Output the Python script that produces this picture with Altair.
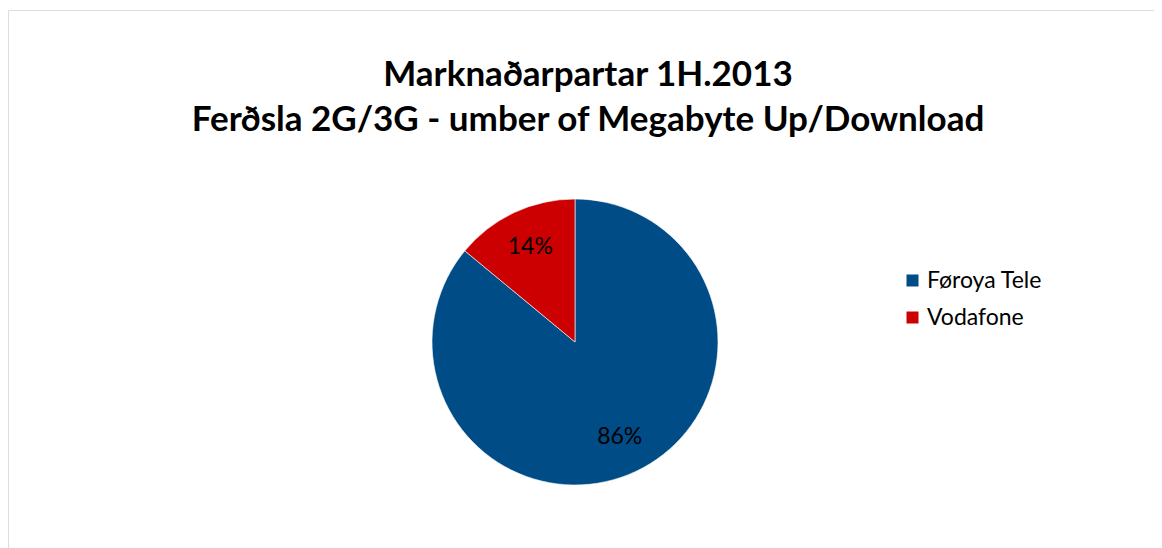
import altair as alt
import pandas as pd

companies = ["Føroya Tele", "Vodafone"]
shares = [86, 14]
colors = ["#004C86", "#CC0000"]
title_lines = ["Marknaðarpartar 1H.2013", "Ferðsla 2G/3G - umber of Megabyte Up/Download"]

df = pd.DataFrame({"company": companies, "share": shares, "order": [0, 1]})
df["label"] = [f"{v}%" for v in shares]

CX, CY, R = 567, 332, 143
FONT = "Lato"

base = alt.Chart(df).encode(
    theta=alt.Theta("share:Q", stack=True),
    order=alt.Order("order:Q"),
)

pie = base.mark_arc(outerRadius=R, stroke="white", strokeWidth=0.6).encode(
    x=alt.value(CX), y=alt.value(CY),
    color=alt.Color(
        "company:N",
        scale=alt.Scale(domain=companies, range=colors),
        legend=alt.Legend(
            title=None, orient="none", legendX=893, legendY=259,
            symbolType="square", symbolSize=144, symbolStrokeWidth=0,
            labelFont=FONT, labelFontSize=23, labelColor="#000000",
            labelOffset=3, rowPadding=13, padding=0,
        ),
    ),
)

labels = base.mark_text(radius=105, font=FONT, fontSize=23, color="#000000").encode(
    x=alt.value(CX), y=alt.value(CY), text="label:N"
)

tdf = pd.DataFrame({"line": title_lines, "i": [0, 1]})
title = alt.Chart(tdf).mark_text(font=FONT, fontSize=35, fontWeight="bold", color="#000000").encode(
    x=alt.value(580),
    y=alt.Y("i:O", axis=None, scale=alt.Scale(type="point", range=[65, 110], padding=0)),
    text="line:N",
)

chart = alt.layer(pie, labels, title).properties(
    width=1146, height=560, padding={"left": 0, "top": 2, "right": 0, "bottom": 0}, autosize="none"
).configure_view(stroke="#A6A6A6", strokeWidth=1.5).configure(background="white")

chart.save("out.html", embed_options={"renderer": "svg", "actions": False})
